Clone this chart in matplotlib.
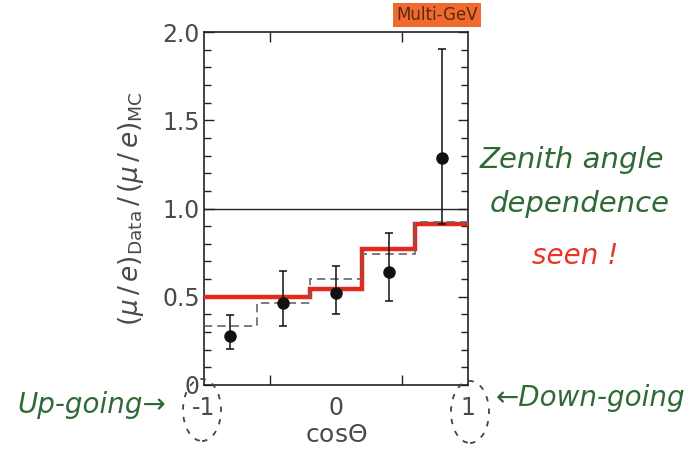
import numpy as np
import matplotlib.pyplot as plt
from matplotlib.patches import Ellipse

# bin edges in cos(theta) and the ratio values per bin
edges = [-1.0, -0.6, -0.2, 0.2, 0.6, 1.0]
mc_osc = [0.50, 0.50, 0.545, 0.77, 0.91]      # red: oscillation best fit
mc_alt = [0.335, 0.465, 0.60, 0.745, 0.925]   # dashed: alternative fit
cos_centers = [-0.8, -0.4, 0.0, 0.4, 0.8]
ratio = [0.28, 0.465, 0.52, 0.64, 1.285]
err_lo = [0.075, 0.13, 0.12, 0.165, 0.375]
err_hi = [0.115, 0.18, 0.155, 0.22, 0.62]

y_ticks = [0, 0.5, 1.0, 1.5, 2.0]
y_ticklabels = ["0", "0.5", "1.0", "1.5", "2.0"]
x_ticks = [-1, 0, 1]
x_ticklabels = ["-1", "0", "1"]

W, H = 700, 455
fig = plt.figure(figsize=(7, 4.55), dpi=100)
ax = fig.add_axes([204 / W, 1 - 385 / H, 264 / W, 353 / H])

ink = "#4a4a4a"
green = "#2f6a36"

ax.axhline(1.0, color="#222222", lw=1.0)
ax.stairs(mc_osc, edges, baseline=None, color="#e3281c", lw=3.2, zorder=3)
ax.stairs(mc_alt, edges, baseline=None, color="#666666", lw=1.2,
          ls=(0, (5, 3)), zorder=4)
ax.errorbar(cos_centers, ratio, yerr=[err_lo, err_hi], fmt="o", color="#111111",
            ms=8, elinewidth=1.1, capsize=3, capthick=1.1, zorder=5)

ax.set_xlim(-1, 1)
ax.set_ylim(0, 2.0)
ax.set_yticks(y_ticks)
ax.set_yticklabels(y_ticklabels)
ax.set_yticks(np.arange(0, 2.01, 0.1), minor=True)
ax.set_xticks(x_ticks)
ax.set_xticklabels(x_ticklabels)
ax.set_xticks([-0.5, 0.5], minor=True)
ax.tick_params(which="both", direction="in", top=True, right=True,
               colors="#222222", labelcolor=ink, labelsize=17, width=1.0)
ax.tick_params(which="major", length=7, pad=3)
ax.tick_params(which="minor", length=5)
ax.tick_params(axis="x", which="major", length=0, pad=8)
ax.tick_params(axis="x", which="minor", length=7)
for s in ax.spines.values():
    s.set_color("#222222")
    s.set_linewidth(1.2)

ax.set_ylabel(r"$(\mu\,/\,e)_{\rm Data}\,/\,(\mu\,/\,e)_{\rm MC}$",
              fontsize=19, color=ink, labelpad=12)
ax.set_xlabel(r"cos$\Theta$", fontsize=18, color=ink, labelpad=2)

# highlighted sample label above the frame
fig.text(437 / W, 1 - 15 / H, "Multi-GeV", ha="center", va="center",
         fontsize=12, color="#5a2a10",
         bbox=dict(boxstyle="square,pad=0.2", fc="#f06a30", ec="none"))

# handwritten style notes
fig.text(572 / W, 1 - 160 / H, "Zenith angle", ha="center", va="center",
         fontsize=21, color=green, style="italic")
fig.text(580 / W, 1 - 204 / H, "dependence", ha="center", va="center",
         fontsize=21, color=green, style="italic")
fig.text(575 / W, 1 - 256 / H, "seen !", ha="center", va="center",
         fontsize=20, color="#e8352a", style="italic")
fig.text(92 / W, 1 - 405 / H, "Up-going→", ha="center", va="center",
         fontsize=20, color=green, style="italic")
fig.text(590 / W, 1 - 398 / H, "←Down-going", ha="center", va="center",
         fontsize=20, color=green, style="italic")

for cx, cy in [(202, 410), (470, 412)]:
    fig.patches.append(Ellipse((cx / W, 1 - cy / H), 38 / W, 62 / H,
                               transform=fig.transFigure, fill=False,
                               ec="#444444", lw=1.3, ls=(0, (3, 4))))

fig.savefig("out.png", dpi=100, facecolor="white")
